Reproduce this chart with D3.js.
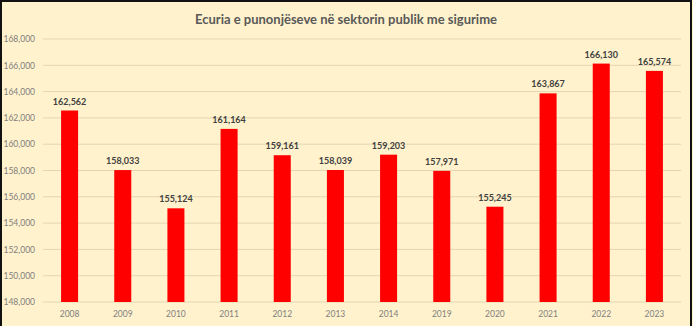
<!DOCTYPE html>
<html>
<head>
<meta charset="utf-8">
<script src="https://cdn.jsdelivr.net/npm/d3@7"></script>
<style>
  html, body { margin: 0; padding: 0; background: #fff2cc; }
  #chart { width: 693px; height: 326px; }
</style>
</head>
<body>
<div id="chart"></div>
<script>
var years = ["2008", "2009", "2010", "2011", "2012", "2013", "2014", "2019", "2020", "2021", "2022", "2023"];
var employees = [162562, 158033, 155124, 161164, 159161, 158039, 159203, 157971, 155245, 163867, 166130, 165574];
var yTicks = [148000, 150000, 152000, 154000, 156000, 158000, 160000, 162000, 164000, 166000, 168000];
var title = "Ecuria e punonjëseve në sektorin publik me sigurime";

var W = 693, H = 326;
var margin = { left: 43, right: 12, top: 39, bottom: 24 };
var width = W - margin.left - margin.right;
var height = H - margin.top - margin.bottom;

var svg = d3.select("#chart")
  .append("svg")
  .attr("width", W)
  .attr("height", H);

svg.append("rect")
  .attr("width", W)
  .attr("height", H)
  .attr("fill", "#fff2cc");

// outer frame
svg.append("path")
  .attr("d", "M1,326 V1 H691 V326")
  .attr("fill", "none")
  .attr("stroke", "#111")
  .attr("stroke-width", 2);

svg.append("text")
  .attr("x", 346)
  .attr("y", 24)
  .attr("text-anchor", "middle")
  .attr("font-family", "Lato, 'Open Sans', sans-serif")
  .attr("font-weight", "bold")
  .attr("font-size", "13px")
  .attr("fill", "#595959")
  .text(title);

var g = svg.append("g")
  .attr("transform", "translate(" + margin.left + "," + margin.top + ")");

var x = d3.scaleBand()
  .domain(years)
  .range([0, width])
  .paddingInner(0.68)
  .paddingOuter(0.34);

var y = d3.scaleLinear()
  .domain([148000, 168000])
  .range([height, 0]);

// gridlines
g.selectAll("line.grid")
  .data(yTicks)
  .enter()
  .append("line")
  .attr("class", "grid")
  .attr("x1", 0)
  .attr("x2", width)
  .attr("y1", function (d) { return y(d); })
  .attr("y2", function (d) { return y(d); })
  .attr("stroke", "#e3d5b4")
  .attr("stroke-width", 1);

// Y axis
var yAxis = d3.axisLeft(y)
  .tickValues(yTicks)
  .tickSize(0)
  .tickPadding(8)
  .tickFormat(d3.format(","));

g.append("g")
  .attr("class", "y-axis")
  .call(yAxis)
  .call(function (s) { s.select(".domain").remove(); })
  .selectAll("text")
  .attr("font-family", "Lato, 'Open Sans', sans-serif")
  .attr("font-size", "8.5px")
  .attr("fill", "#7f7f7f");

// X axis
var xAxis = d3.axisBottom(x)
  .tickSize(0)
  .tickPadding(9);

g.append("g")
  .attr("class", "x-axis")
  .attr("transform", "translate(0," + height + ")")
  .call(xAxis)
  .call(function (s) { s.select(".domain").remove(); })
  .selectAll("text")
  .attr("font-family", "Lato, 'Open Sans', sans-serif")
  .attr("font-size", "8.5px")
  .attr("fill", "#7f7f7f");

var data = years.map(function (yr, i) { return { year: yr, value: employees[i] }; });

// bars
g.selectAll("rect.bar")
  .data(data)
  .enter()
  .append("rect")
  .attr("class", "bar")
  .attr("x", function (d) { return x(d.year); })
  .attr("y", function (d) { return y(d.value); })
  .attr("width", x.bandwidth())
  .attr("height", function (d) { return height - y(d.value); })
  .attr("fill", "#ff0000");

// value labels
g.selectAll("text.val")
  .data(data)
  .enter()
  .append("text")
  .attr("class", "val")
  .attr("x", function (d) { return x(d.year) + x.bandwidth() / 2; })
  .attr("y", function (d) { return y(d.value) - 6; })
  .attr("text-anchor", "middle")
  .attr("font-family", "Lato, 'Open Sans', sans-serif")
  .attr("font-weight", "bold")
  .attr("font-size", "9px")
  .attr("fill", "#404040")
  .text(function (d) { return d3.format(",")(d.value); });
</script>
</body>
</html>
